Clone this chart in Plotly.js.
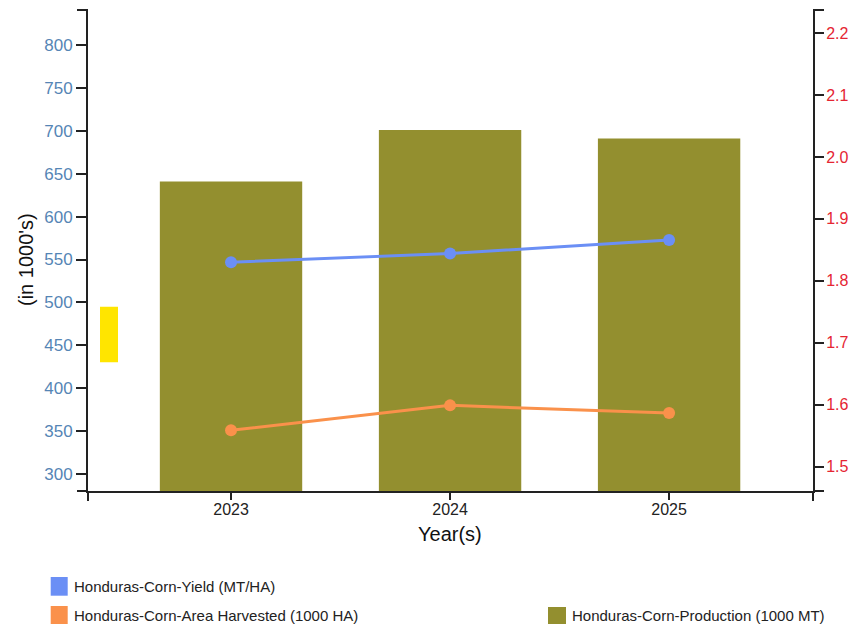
<!DOCTYPE html>
<html>
<head>
<meta charset="utf-8">
<script src="https://cdn.plot.ly/plotly-3.0.1.min.js"></script>
<style>
html,body{margin:0;padding:0;background:#fff;}
#chart{width:850px;height:629px;}
</style>
</head>
<body>
<div id="chart"></div>
<script>
// Data
var years = ["2023", "2024", "2025"];
var production = [641, 701, 691];          // 1000 MT (left axis, bars)
var areaHarvested = [351, 380, 371];       // 1000 HA (left axis, line)
var yieldVals = [1.83, 1.844, 1.866];      // MT/HA (right axis, line)
var leftTicks = [300, 350, 400, 450, 500, 550, 600, 650, 700, 750, 800];
var rightTicks = [1.5, 1.6, 1.7, 1.8, 1.9, 2.0, 2.1, 2.2];
var seriesNames = [
  "Honduras-Corn-Yield (MT/HA)",
  "Honduras-Corn-Area Harvested (1000 HA)",
  "Honduras-Corn-Production (1000 MT)"
];

var colors = {
  bar: "#938f2f",
  yield: "#6b8ff5",
  area: "#fa914b",
  leftTick: "#5585b5",
  rightTick: "#e52532",
  yellow: "#ffe500"
};

// plot-area geometry (pixels)
var L = 88, R = 813, T = 10, B = 491;
var W = R - L, H = B - T;
function px(x) { return (x - L) / W; }
function py(y) { return (B - y) / H; }

var traces = [
  {
    type: "bar", x: years, y: production, name: seriesNames[2],
    marker: { color: colors.bar }, width: 0.65, yaxis: "y", showlegend: false,
    hoverinfo: "x+y"
  },
  {
    type: "scatter", mode: "lines+markers", x: years, y: yieldVals, name: seriesNames[0],
    yaxis: "y2", line: { color: colors.yield, width: 3 },
    marker: { color: colors.yield, size: 12 }, showlegend: false
  },
  {
    type: "scatter", mode: "lines+markers", x: years, y: areaHarvested, name: seriesNames[1],
    yaxis: "y", line: { color: colors.area, width: 3 },
    marker: { color: colors.area, size: 12 }, showlegend: false
  }
];

var black = "#222";
var shapes = [
  // yellow marker block
  { type: "rect", xref: "paper", yref: "paper", x0: px(100), x1: px(118), y0: py(362.3), y1: py(306.7),
    fillcolor: colors.yellow, line: { width: 0 } },
  // outer ticks of axis domains
  { type: "line", xref: "paper", yref: "paper", x0: px(77), x1: px(88), y0: py(10), y1: py(10), line: { color: black, width: 2 } },
  { type: "line", xref: "paper", yref: "paper", x0: px(88), x1: px(88), y0: py(491), y1: py(501), line: { color: black, width: 2 } },
  { type: "line", xref: "paper", yref: "paper", x0: px(77), x1: px(88), y0: py(491), y1: py(491), line: { color: black, width: 2 } },
  { type: "line", xref: "paper", yref: "paper", x0: px(813), x1: px(824), y0: py(10), y1: py(10), line: { color: black, width: 2 } },
  { type: "line", xref: "paper", yref: "paper", x0: px(813), x1: px(813), y0: py(491), y1: py(501), line: { color: black, width: 2 } },
  { type: "line", xref: "paper", yref: "paper", x0: px(813), x1: px(824), y0: py(491), y1: py(491), line: { color: black, width: 2 } },
  // legend swatches
  { type: "rect", xref: "paper", yref: "paper", x0: px(50.7), x1: px(67.7), y0: py(595.7), y1: py(577),
    fillcolor: colors.yield, line: { width: 0 } },
  { type: "rect", xref: "paper", yref: "paper", x0: px(50.7), x1: px(67.7), y0: py(624), y1: py(606),
    fillcolor: colors.area, line: { width: 0 } },
  { type: "rect", xref: "paper", yref: "paper", x0: px(548), x1: px(566), y0: py(624), y1: py(607),
    fillcolor: colors.bar, line: { width: 0 } }
];

var legendFont = { family: "Liberation Sans, Arial, sans-serif", size: 15, color: "#222" };
var annotations = [
  { xref: "paper", yref: "paper", x: px(26), y: py(260), text: "(in 1000's)", textangle: -90,
    showarrow: false, xanchor: "center", yanchor: "middle",
    font: { family: "Liberation Sans, Arial, sans-serif", size: 20, color: "#111" } },
  { xref: "paper", yref: "paper", x: px(450), y: py(534), text: "Year(s)",
    showarrow: false, xanchor: "center", yanchor: "middle",
    font: { family: "Liberation Sans, Arial, sans-serif", size: 20, color: "#111" } },
  { xref: "paper", yref: "paper", x: px(72), y: py(586.5), text: seriesNames[0],
    showarrow: false, xanchor: "left", yanchor: "middle", font: legendFont },
  { xref: "paper", yref: "paper", x: px(72), y: py(615), text: seriesNames[1],
    showarrow: false, xanchor: "left", yanchor: "middle", font: legendFont },
  { xref: "paper", yref: "paper", x: px(570), y: py(615.5), text: seriesNames[2],
    showarrow: false, xanchor: "left", yanchor: "middle", font: legendFont }
];

var layout = {
  width: 850, height: 629,
  margin: { l: L, r: 850 - R, t: T, b: 629 - B, pad: 0 },
  paper_bgcolor: "#fff", plot_bgcolor: "#fff",
  showlegend: false,
  font: { family: "Liberation Sans, Arial, sans-serif" },
  xaxis: {
    type: "category", range: [-0.653, 2.657],
    showline: true, linecolor: black, linewidth: 2,
    ticks: "outside", ticklen: 7, tickwidth: 2, tickcolor: black,
    ticklabelstandoff: -4,
    showgrid: false, zeroline: false,
    tickfont: { size: 16, color: "#222" }
  },
  yaxis: {
    range: [280.2, 840.8],
    tickvals: leftTicks,
    showline: true, linecolor: black, linewidth: 2,
    ticks: "outside", ticklen: 10, tickwidth: 2, tickcolor: black,
    showgrid: false, zeroline: false,
    tickfont: { size: 17, color: colors.leftTick }
  },
  yaxis2: {
    overlaying: "y", side: "right",
    range: [1.461, 2.237],
    tickvals: rightTicks, tickformat: ".1f",
    showline: true, linecolor: black, linewidth: 2,
    ticks: "outside", ticklen: 9, tickwidth: 2, tickcolor: black,
    ticklabelstandoff: -1,
    showgrid: false, zeroline: false,
    tickfont: { size: 16, color: colors.rightTick }
  },
  shapes: shapes,
  annotations: annotations
};

Plotly.newPlot("chart", traces, layout, { displayModeBar: false, staticPlot: true });
</script>
</body>
</html>
